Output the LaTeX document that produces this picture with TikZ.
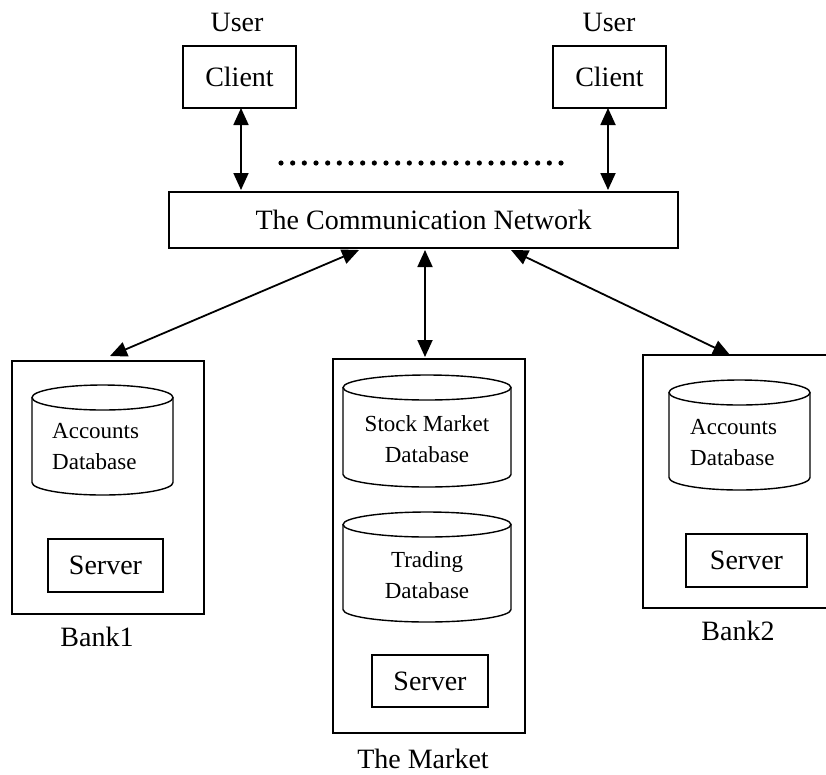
\documentclass[tikz,border=0pt]{standalone}
\usepackage{fontspec}
\setmainfont{Liberation Serif}
\usetikzlibrary{arrows.meta}
% database drum: left, right, top, bottom
\newcommand\dbdrum[4]{%
  \pgfmathsetmacro\dbcx{(#1+#2)/2}%
  \pgfmathsetmacro\dbrx{(#2-#1)/2}%
  \draw[dbline] (\dbcx,#3+12.5) ellipse [x radius=\dbrx pt, y radius=12.5pt];
  \draw[dbline] (#1,#3+12.5) -- (#1,#4-12.5)
    arc[start angle=180, end angle=360, x radius=\dbrx pt, y radius=12.5pt]
    -- (#2,#3+12.5);
}
\begin{document}
\begin{tikzpicture}[x=1pt,y=-1pt,
  box/.style={draw, line width=1.8pt, inner sep=0pt, font=\fontsize{28}{31}\selectfont},
  srv/.style={draw, line width=1.6pt, inner sep=0pt, font=\fontsize{28}{31}\selectfont},
  lbl/.style={inner sep=0pt, font=\fontsize{28}{31}\selectfont},
  dbtext/.style={inner sep=0pt, font=\fontsize{23}{31}\selectfont},
  dbline/.style={line width=1.4pt},
  link/.style={line width=1.8pt,
    {Triangle[length=17pt,width=15pt]}-{Triangle[length=17pt,width=15pt]}}]
\useasboundingbox (0,0) rectangle (826,774);

% users and clients
\node[lbl] (user1) at (237,22) {User};
\node[lbl] (user2) at (609,22) {User};
\node[box, minimum width=113pt, minimum height=62pt] (client1) at (239.5,77) {Client};
\node[box, minimum width=113pt, minimum height=62pt] (client2) at (609.5,77) {Client};

% network
\node[box, minimum width=509pt, minimum height=56pt] (net) at (423.5,220) {The Communication Network};

% client links
\coordinate (c1top) at (241,108);
\coordinate (c1bot) at (241,190);
\coordinate (c2top) at (608,108);
\coordinate (c2bot) at (608,190);
\draw[link] (c1top) -- (c1bot);
\draw[link] (c2top) -- (c2bot);

% more clients
\foreach \i in {0,...,24} \fill (281+\i*11.667,163) circle[radius=2.6pt];

% Bank1
\node[box, minimum width=192pt, minimum height=253pt] (bank1) at (108,487.5) {};
\dbdrum{32}{173}{385}{495}
\node[dbtext, anchor=west, align=left] (acc1) at (52,447) {Accounts\\Database};
\node[srv, minimum width=115pt, minimum height=53pt] (srv1) at (105.5,565.5) {Server};
\node[lbl] (bank1lbl) at (97,637) {Bank1};

% The Market
\node[box, minimum width=192pt, minimum height=374pt] (market) at (429,546) {};
\dbdrum{343}{511}{375}{487}
\node[dbtext, align=center] (stockdb) at (427,439) {Stock Market\\Database};
\dbdrum{343}{511}{512}{622}
\node[dbtext, align=center] (tradedb) at (427,575) {Trading\\Database};
\node[srv, minimum width=116pt, minimum height=52pt] (srv2) at (430,681) {Server};
\node[lbl] (marketlbl) at (423,759) {The Market};

% Bank2
\node[box, minimum width=185pt, minimum height=253pt] (bank2) at (735.5,481.5) {};
\dbdrum{669}{810}{380}{490}
\node[dbtext, anchor=west, align=left] (acc2) at (690,443) {Accounts\\Database};
\node[srv, minimum width=121pt, minimum height=53pt] (srv3) at (746.5,560.5) {Server};
\node[lbl] (bank2lbl) at (738,630.5) {Bank2};

% links between network and sites
\coordinate (nL) at (359,250);
\coordinate (nM) at (425,250);
\coordinate (nR) at (511,250);
\coordinate (b1in) at (110,356);
\coordinate (mkin) at (425,357);
\coordinate (b2in) at (730,355);
\draw[link] (nL) -- (b1in);
\draw[link] (nM) -- (mkin);
\draw[link] (nR) -- (b2in);
\end{tikzpicture}
\end{document}
